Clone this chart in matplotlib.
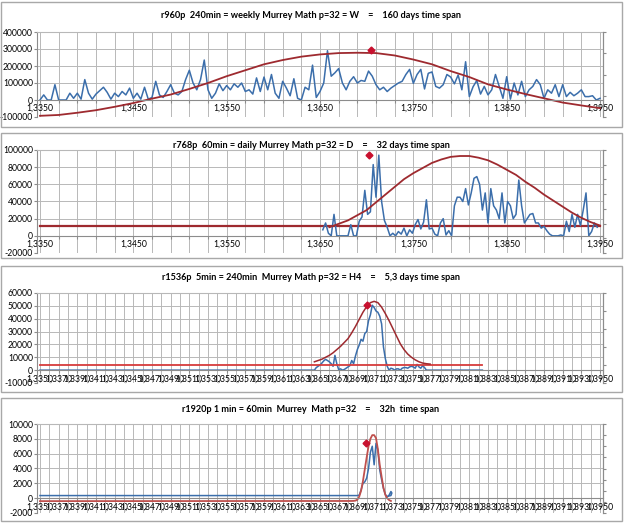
import matplotlib.pyplot as plt
import numpy as np
from matplotlib.patches import Rectangle

plt.rcParams['font.family'] = ['Lato', 'DejaVu Sans']

BLUE = '#3b6eab'
MAROON = '#9e2a2f'
RED = '#d63b3b'
DIAMOND = '#c8102e'
GRID = '#b8b8b8'

titles = [
    "r960p  240min = weekly Murrey Math p=32 = W    =    160 days time span",
    "r768p  60min = daily Murrey Math p=32 = D    =    32 days time span",
    "r1536p  5min = 240min  Murrey Math p=32 = H4    =    5,3 days time span",
    "r1920p 1 min = 60min  Murrey  Math p=32    =    32h  time span",
]

# ---- panel 1 (values in thousands) ----
blue1_start, blue1_step = 1.3350, 0.0004
blue1_k = [0, 30, 0, 0, 90, 0, 0, 0, 40, 10, 40, 5, 120, 40, 5, 35, 55, 75, 45, 5,
           40, 20, 50, 30, 70, 10, 40, 5, 75, 5, 15, 110, 30, 15, 50, 90, 40, 30, 50, 120,
           175, 100, 60, 120, 235, 60, 10, 40, 95, 55, 85, 60, 95, 75, 100, 50, 60, 35, 130, 50,
           135, 60, 150, 40, 10, 110, 70, 25, 125, 10, 0, 75, 60, 205, 15, 50, 100, 290, 140, 160,
           185, 100, 60, 110, 137, 100, 115, 110, 170, 140, 90, 60, 75, 50, 70, 85, 100, 110, 150, 180,
           98, 150, 180, 65, 157, 165, 80, 70, 90, 150, 135, 95, 147, 60, 225, 20, 78, 115, 35, 80,
           30, 60, 150, 80, 10, 137, 5, 100, 30, 110, 20, 60, 80, 120, 90, 10, 60, 40, 90, 20,
           90, 20, 45, 25, 40, 60, 20, 20, 25, 0, 10]
red1_start, red1_step = 1.3350, 0.002
red1_k = [-93, -88, -75, -60, -40, -18, 8, 32, 65, 100, 140, 175, 210, 235, 255, 268,
          276, 278, 276, 262, 238, 210, 170, 135, 92, 62, 35, 10, -15, -32, -48]
mark1 = (1.3705, 293000)

# ---- panel 2 (values in thousands) ----
blue2_start, blue2_step = 1.3653, 0.0003
blue2_k = [7, 15, 3, 0, 25, 0, 0, 0, 0, 0, 13, 0, 0, 17, 22, 53, 25, 28, 83, 45,
           94, 40, 18, 10, 0, 3, 0, 5, 2, 9, 0, 7, 3, 13, 19, 8, 16, 42, 8, 9,
           2, 0, 15, 20, 1, 6, 0, 35, 45, 45, 40, 55, 36, 50, 67, 69, 60, 30, 50, 15,
           55, 35, 30, 20, 50, 15, 40, 35, 20, 25, 65, 35, 15, 20, 25, 26, 15, 15, 9, 11,
           6, 2, 0, 0, 0, 1, 0, 17, 5, 25, 10, 25, 12, 30, 50, 0, 5, 15, 10]
red2_start, red2_step = 1.3660, 0.001
red2_k = [10, 14, 18, 24, 30, 39, 48, 57, 66, 73, 79, 85, 89, 92, 93, 93, 91, 88, 83, 77,
          71, 63, 56, 48, 41, 34, 27, 21, 16, 12]
flat2_x = [1.3350, 1.3950]
flat2_y = [11000, 11000]
mark2 = (1.3703, 94000)

# ---- panel 3 (values in thousands) ----
blue3_start, blue3_step = 1.3644, 0.0002
blue3_k = [0, 2, 3, 4, 5.5, 7.2, 8.4, 7.5, 6.5, 5, 3, 11.5, 5, 0.5, 1, 0, 0.5, 1.5, 2.5, 3.5,
           7.5, 5, 11, 16, 19.5, 24, 22.5, 28.5, 30, 38.5, 43, 50.5, 48.7, 46, 45, 42, 36, 18, 9, 3,
           0, 1.5, 1, 0, 1, 1, 0, 1.5, 2, 2, 1.5, 2.5, 3, 2.5, 1.5, 4.5, 2.5, 1.5, 3.5, 2, 0]
blue3_lead = (1.3350, 0)
blue3_tail = (1.3824, 0)
red3_start, red3_step = 1.3644, 0.0004
red3_k = [6.5, 7.5, 8.5, 10, 11.5, 13.5, 16, 18.5, 21.5, 24.5, 29, 34, 39.5, 45, 49.5, 52.5,
          53.5, 52.5, 49, 44, 38.5, 32.5, 26.5, 20.5, 16, 12.5, 10, 8, 6.5, 5.5, 5, 4.7]
flat3_x = [1.3350, 1.3824]
flat3_y = [4000, 4000]
mark3 = (1.3700, 50500)

# ---- panel 4 ----
blue4_x = [1.3350, 1.3688, 1.3690, 1.3692, 1.3694, 1.3696, 1.3698, 1.3700, 1.3702, 1.3704,
           1.3706, 1.3708, 1.3710, 1.3712, 1.3714, 1.3716, 1.3718, 1.3720, 1.3722, 1.3724,
           1.3726, 1.3727, 1.3726, 1.3724]
blue4_y = [350, 350, 350, 400, 1100, 2000, 2200, 2700, 4000, 6200,
           7000, 4500, 7400, 6500, 3800, 2500, 1300, 500, 200, 400,
           900, 700, 350, 300]
red4_x = [1.3350, 1.3684, 1.3686, 1.3688, 1.3690, 1.3692, 1.3694, 1.3696, 1.3698, 1.3700,
          1.3702, 1.3704, 1.3706, 1.3708, 1.3710, 1.3712, 1.3714, 1.3716, 1.3718, 1.3720,
          1.3722, 1.3724, 1.3726]
red4_y = [-400, -380, -370, -330, -200, 200, 1000, 2300, 3900, 5500,
          7000, 8000, 8500, 8500, 8100, 6600, 4500, 2900, 1400, 450,
          0, -250, -380]
mark4 = (1.3699, 7500)

yticks = [np.arange(-100000, 400001, 100000), np.arange(-20000, 100001, 20000),
          np.arange(-10000, 60001, 10000), np.arange(-2000, 10001, 2000)]

W, H = 625, 523
fig = plt.figure(figsize=(W / 100, H / 100), dpi=100)

boxes = [(1, 2, 621, 125), (1, 133, 621, 125), (1, 266, 621, 126), (1, 398, 621, 123)]
plots = [(37, 32, 603, 117), (37, 150, 603, 253), (37, 293, 603, 383), (37, 424, 603, 513)]
title_y = [15, 145, 278, 409]
right_n = [4, 7, 5, 8]

for bx, by, bw, bh in boxes:
    fig.patches.append(Rectangle((bx / W, 1 - (by + bh) / H), bw / W, bh / H,
                                 transform=fig.transFigure, fill=False,
                                 edgecolor='#a8a8a8', lw=1.0))

axes = []
for k, (l, t, r, b) in enumerate(plots):
    ax = fig.add_axes([l / W, 1 - b / H, (r - l) / W, (b - t) / H])
    axes.append(ax)
    fig.text(311 / W, 1 - title_y[k] / H, titles[k], ha='center', va='center',
             fontsize=6.6, fontweight='bold')

major = 1.3350 + 0.002 * np.arange(31)
minor = 1.3350 + 0.001 * np.arange(61)

for k, ax in enumerate(axes):
    yt = yticks[k]
    ax.set_ylim(yt[0], yt[-1])
    ax.set_xlim(1.33468, 1.39532)
    ax.set_yticks(yt)
    ax.set_yticklabels([str(int(v)) for v in yt])
    ax.set_xticks(major)
    if k < 2:
        labs = [f"{v:.4f}".replace('.', ',') if i % 5 == 0 else '' for i, v in enumerate(major)]
        ax.grid(True, which='major', color=GRID, lw=0.7)
    else:
        labs = [f"{v:.4f}".replace('.', ',') for v in major]
        ax.set_xticks(minor, minor=True)
        ax.grid(True, which='both', color=GRID, lw=0.7)
    ax.set_xticklabels(labs)
    ax.set_axisbelow(True)
    ax.spines['bottom'].set_position(('data', 0))
    for s in ['bottom', 'left', 'right']:
        ax.spines[s].set_color('#8c8c8c')
    ax.spines['top'].set_color(GRID)
    ax.tick_params(axis='both', which='both', length=2, color='#8c8c8c',
                   labelsize=6.2, pad=1)
    ax.tick_params(axis='x', which='minor', length=0)
    ax.tick_params(axis='y', which='both', direction='out')

    ax2 = ax.twinx()
    ax2.set_ylim(0, 1)
    ax2.set_yticks(np.linspace(0, 1, right_n[k] + 1))
    ax2.set_yticklabels([])
    ax2.tick_params(axis='y', length=2.5, color='#8c8c8c')
    for s in ['top', 'bottom', 'left']:
        ax2.spines[s].set_visible(False)
    ax2.spines['right'].set_color('#8c8c8c')

# panel 1
ax = axes[0]
ax.plot(blue1_start + blue1_step * np.arange(len(blue1_k)), np.array(blue1_k) * 1000,
        color=BLUE, lw=1.1)
ax.plot(red1_start + red1_step * np.arange(len(red1_k)), np.array(red1_k) * 1000,
        color=MAROON, lw=1.3)
ax.plot(*mark1, marker='D', ms=3.5, color=DIAMOND, ls='none')

# panel 2
ax = axes[1]
ax.plot(flat2_x, flat2_y, color=MAROON, lw=1.6)
ax.plot(blue2_start + blue2_step * np.arange(len(blue2_k)), np.array(blue2_k) * 1000,
        color=BLUE, lw=1.1)
ax.plot(red2_start + red2_step * np.arange(len(red2_k)), np.array(red2_k) * 1000,
        color=MAROON, lw=1.3)
ax.plot(*mark2, marker='D', ms=3.5, color=DIAMOND, ls='none')

# panel 3
ax = axes[2]
bx3 = np.concatenate([[blue3_lead[0]], blue3_start + blue3_step * np.arange(len(blue3_k)),
                      [blue3_tail[0]]])
by3 = np.concatenate([[blue3_lead[1]], np.array(blue3_k) * 1000, [blue3_tail[1]]])
ax.plot(bx3, by3, color=BLUE, lw=1.1)
ax.plot(flat3_x, flat3_y, color=RED, lw=1.3)
ax.plot(red3_start + red3_step * np.arange(len(red3_k)), np.array(red3_k) * 1000,
        color=MAROON, lw=1.1)
ax.plot(*mark3, marker='D', ms=3.5, color=DIAMOND, ls='none')

# panel 4
ax = axes[3]
ax.plot(blue4_x, blue4_y, color=BLUE, lw=1.1)
ax.plot(red4_x, red4_y, color='#c0504d', lw=1.3)
ax.plot(*mark4, marker='D', ms=3.5, color=DIAMOND, ls='none')

fig.savefig('out.png', dpi=100)
